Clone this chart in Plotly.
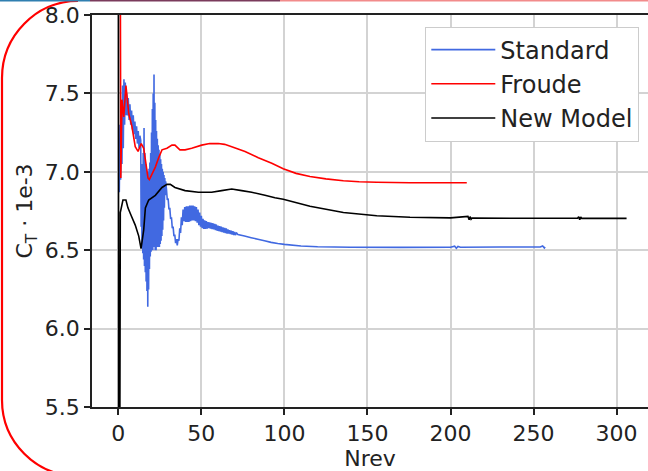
import plotly.graph_objects as go

# ---------------- data ----------------
std_x = [0.6, 1.0, 1.4, 1.8, 2.2, 2.6, 3.0, 3.4, 3.8, 4.2, 4.6, 5.0, 5.5, 6.0, 6.5, 7.0, 7.5, 8.0, 8.5, 9.0,
         9.5, 10.0, 10.5, 11.0, 11.5, 12.0, 12.5, 13.0,
         13.5, 13.75, 14.0, 14.25, 14.5, 14.75, 15.0, 15.25, 15.5, 15.75, 16.0, 16.25, 16.5, 16.75, 17.0,
         17.25, 17.5, 17.75, 18.0, 18.25, 18.5, 18.75, 19.0, 19.25, 19.5, 19.75, 20.0, 20.25, 20.5, 20.75,
         21.0, 21.25, 21.5, 21.75, 22.0, 22.25, 22.5, 22.75, 23.0, 23.25, 23.5, 23.75, 24.0, 24.25, 24.5,
         24.75, 25.0, 25.25, 25.5, 25.75, 26.0, 26.25, 26.5, 26.75, 27.0, 27.25, 27.5, 27.75, 28.0, 28.25,
         28.5,
         29.0, 29.5, 30.0, 30.5, 31.0, 31.5, 32.0, 32.5, 33.0, 33.5, 34.0, 34.5, 35.0, 35.5, 36.0, 36.5,
         37.0, 37.5, 38.0, 38.5,
         39.0, 39.5, 40.0, 40.5, 41.0, 41.5, 42.0, 42.5, 43.0, 43.5, 44.0, 44.5, 45.0, 45.5, 46.0, 46.5,
         47.0, 47.5, 48.0, 48.5, 49.0, 49.5, 50.0, 50.5, 51.0, 51.5, 52.0, 52.5, 53.0, 53.5,
         54.0, 54.5, 55.0, 55.5, 56.0, 56.5, 57.0, 57.5, 58.0, 58.5, 59.0, 59.5, 60.0, 60.5, 61.0, 61.5,
         62.0, 62.5, 63.0, 63.5, 64.0, 64.5, 65.0, 65.5, 66.0, 66.5, 67.0, 67.5, 68.0, 68.5, 69.0, 69.5,
         70.0, 70.5, 71.0,
         72, 76, 80, 84, 88, 92, 96, 100, 110, 120, 140, 170, 200, 202.5, 203.5, 204.5, 206, 230, 254,
         255.5, 256.5, 257]
std_y = [6.87, 7.30, 6.95, 7.45, 7.05, 7.55, 7.15, 7.59, 7.30, 7.57, 7.36, 7.50, 7.36, 7.47, 7.33, 7.43, 7.30,
         7.39, 7.27, 7.36, 7.24, 7.32, 7.21, 7.29, 7.18, 7.26, 7.15, 7.23,
         7.20, 6.65, 7.00, 6.52, 7.05, 6.48, 7.12, 6.44, 7.28, 6.40, 7.12, 6.36, 7.05, 6.30, 7.02, 6.24,
         7.00, 6.14, 7.00, 6.25, 7.02, 6.38, 7.06, 6.46, 7.12, 6.49, 7.25, 6.50, 7.40, 6.50, 7.50, 6.52,
         7.62, 6.52, 7.44, 6.50, 7.33, 6.50, 7.26, 6.52, 7.21, 6.52, 7.17, 6.52, 7.14, 6.52, 7.11, 6.54,
         7.08, 6.56, 7.05, 6.59, 7.02, 6.63, 7.00, 6.69, 6.98, 6.77, 6.96, 6.85, 6.94,
         6.89, 6.82, 6.83, 6.76, 6.77, 6.70, 6.71, 6.64, 6.65, 6.59, 6.60, 6.545, 6.57, 6.53, 6.57, 6.56,
         6.64, 6.61, 6.71, 6.66,
         6.76, 6.685, 6.775, 6.68, 6.78, 6.68, 6.78, 6.68, 6.785, 6.685, 6.785, 6.69, 6.785, 6.69, 6.78,
         6.685, 6.775, 6.675, 6.76, 6.66, 6.74, 6.65, 6.72, 6.64, 6.70, 6.635, 6.69, 6.635, 6.685, 6.638,
         6.68, 6.64, 6.678, 6.637, 6.675, 6.635, 6.672, 6.632, 6.668, 6.628, 6.664, 6.624, 6.657, 6.622,
         6.653, 6.619, 6.65, 6.615, 6.646, 6.612, 6.643, 6.609, 6.639, 6.606, 6.632, 6.606, 6.628, 6.603,
         6.625, 6.600, 6.621, 6.597, 6.617, 6.596, 6.612,
         6.60, 6.59, 6.58, 6.57, 6.56, 6.55, 6.543, 6.537, 6.527, 6.522, 6.519, 6.518, 6.519, 6.526, 6.512,
         6.524, 6.519, 6.52, 6.52, 6.527, 6.514, 6.52]

froude_x = [0.4, 1.5, 2.2, 3.3, 4.6, 6.3, 8.2, 10.2, 11.9, 13.0, 13.8, 15.3, 17.9, 18.7, 20.5, 22.3, 24.3,
            26.3, 29.3, 32.3, 34.1, 37.1, 40.2, 44.2, 50.2, 55.0, 60.2, 64.0, 68.3, 76.3, 84.3, 92.4, 99.3,
            107.0, 115.4, 125.0, 135.5, 145.0, 155.6, 175.6, 195.0, 209.8]
froude_y = [12.0, 6.96, 7.46, 7.35, 7.55, 7.37, 7.29, 7.16, 7.13, 7.16, 7.18, 7.15, 6.96, 6.95, 6.99, 7.03,
            7.09, 7.14, 7.15, 7.17, 7.17, 7.14, 7.14, 7.15, 7.17, 7.18, 7.18, 7.175, 7.16, 7.13, 7.09, 7.055,
            7.02, 6.99, 6.97, 6.955, 6.943, 6.937, 6.933, 6.93, 6.93, 6.93]

new_x = [0.0, 0.3, 1.2, 2.8, 4.6, 5.8, 7.8, 10.2, 12.3, 13.7, 15.3, 16.3, 18.3, 22.3, 26.3, 29.3, 31.3, 34.1,
         40.2, 48.2, 56.2, 62.2, 68.3, 74.3, 80.3, 88.3, 94.3, 99.3, 115.4, 135.5, 155.6, 175.6, 200.0,
         210.5, 211.2, 211.8, 212.4, 213.0, 240.0, 276.5, 277.2, 277.8, 278.4, 279.0, 306.0]
new_y = [12.0, 2.0, 6.74, 6.82, 6.82, 6.77, 6.72, 6.66, 6.59, 6.51, 6.63, 6.77, 6.82, 6.85, 6.90, 6.92, 6.92,
         6.90, 6.88, 6.87, 6.87, 6.88, 6.89, 6.88, 6.87, 6.85, 6.835, 6.825, 6.78, 6.74, 6.72, 6.71, 6.706,
         6.716, 6.694, 6.714, 6.698, 6.705, 6.704, 6.704, 6.714, 6.694, 6.712, 6.703, 6.703]

series_names = ["Standard", "Froude", "New Model"]
x_ticks = [0, 50, 100, 150, 200, 250, 300]
y_ticks = [5.5, 6.0, 6.5, 7.0, 7.5, 8.0]

# ---------------- figure ----------------
W, H = 648, 471
ML, MR, MT, MB = 92, 0, 15, 64
PW, PH = W - ML - MR, H - MT - MB


def P(px, py):
    return (px - ML) / PW, (H - MB - py) / PH


FONT = "DejaVu Sans"
fig = go.Figure()
for name, xs, ys, col in [(series_names[0], std_x, std_y, "#4169E1"),
                          (series_names[1], froude_x, froude_y, "#ff0000"),
                          (series_names[2], new_x, new_y, "#000000")]:
    fig.add_trace(go.Scatter(x=xs, y=ys, mode="lines", name=name,
                             line=dict(color=col, width=1.6, simplify=False)))

fig.update_xaxes(range=[-15.83, 318.9], tickvals=x_ticks, showgrid=True, gridcolor="#d3d3d3",
                 gridwidth=1.8, zeroline=False, showline=True, linecolor="#222", linewidth=1.8,
                 mirror=True, ticks="outside", ticklen=6, tickwidth=1.6, tickcolor="#222",
                 automargin=False,
                 tickfont=dict(family=FONT, size=22, color="#222"),
                 title=dict(text="Nrev", font=dict(family=FONT, size=22, color="#222"), standoff=3))
fig.update_yaxes(range=[5.5, 8.0], tickvals=y_ticks, tickformat=".1f", showgrid=True,
                 gridcolor="#d3d3d3", gridwidth=1.8, zeroline=False, showline=True, linecolor="#222",
                 linewidth=1.8, ticks="outside", ticklen=6, tickwidth=1.6, tickcolor="#222",
                 automargin=False,
                 tickfont=dict(family=FONT, size=22, color="#222"),
                 title=dict(text="C<sub>T</sub> · 1e-3", font=dict(family=FONT, size=22, color="#222"),
                            standoff=6))

# decorative frame pieces seen at the image edges
r = 76
k = 0.5523 * r
pts = [(78, 1), (78 - k, 1), (2, 78 - k), (2, 78), (2, 400), (2, 400 + k), (78 - k, 476), (78, 476)]
pp = [P(*p) for p in pts]
path = ("M{0[0]},{0[1]} C{1[0]},{1[1]} {2[0]},{2[1]} {3[0]},{3[1]} L{4[0]},{4[1]} "
        "C{5[0]},{5[1]} {6[0]},{6[1]} {7[0]},{7[1]}").format(*pp)
shapes = [dict(type="path", path=path, xref="paper", yref="paper",
               line=dict(color="#ff0000", width=2.2))]
for x0, x1, c in [(0, 90, "#2f7fb0"), (90, 280, "#7a3b5c"), (280, 648, "#f28b8b")]:
    a, yy = P(x0, 0.8)
    b, _ = P(x1, 0.8)
    shapes.append(dict(type="line", xref="paper", yref="paper", x0=a, x1=b, y0=yy, y1=yy,
                       line=dict(color=c, width=1.6)))

fig.update_layout(
    width=W, height=H, margin=dict(l=ML, r=MR, t=MT, b=MB, pad=0, autoexpand=False),
    paper_bgcolor="white", plot_bgcolor="white",
    font=dict(family=FONT, color="#222"),
    shapes=shapes,
    legend=dict(x=P(639.3, 0)[0], y=P(0, 26.5)[1], xanchor="right", yanchor="top",
                bgcolor="white", bordercolor="#cccccc", borderwidth=1,
                font=dict(family=FONT, size=24, color="#222"), itemwidth=64),
)

fig.write_html("out.html", config={"displayModeBar": False},
               post_script="document.body.style.margin='0px';"
                           "document.body.style.overflow='hidden';")
